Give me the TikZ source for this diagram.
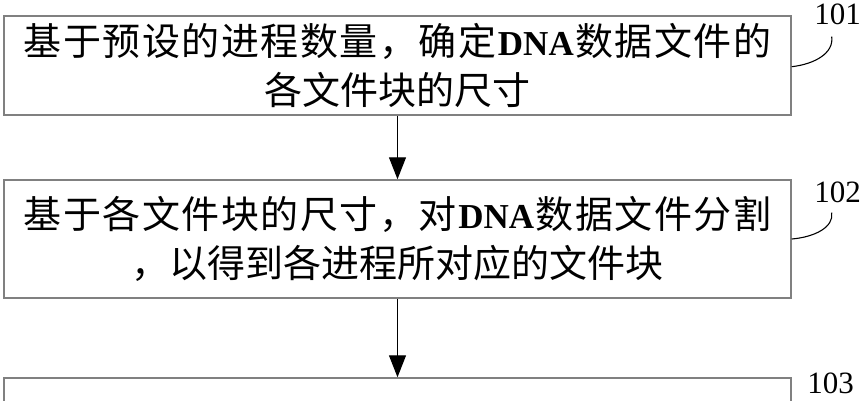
\documentclass[tikz,border=0pt]{standalone}
\usepackage{fontspec}
\usetikzlibrary{arrows.meta}
\newfontfamily\cjk{Noto Sans CJK SC}
\newfontfamily\tnr{Liberation Serif}
\newcommand\dna{{\tnr\bfseries\fontsize{35}{49}\selectfont DNA}}
\definecolor{boxgray}{HTML}{808080}
\tikzset{
  stepbox/.style={draw=boxgray, line width=1.5pt, rectangle, inner sep=0pt,
    minimum width=787pt, align=center, text=black,
    font=\cjk\fontsize{38}{49}\selectfont},
  flow/.style={draw=black, line width=1.2pt, -{Triangle[length=22pt,width=17pt]}},
  leader/.style={draw=black, line width=1.1pt},
  steplabel/.style={inner sep=0pt, font=\tnr\fontsize{31}{31}\selectfont}
}
\begin{document}
\begin{tikzpicture}[x=1pt,y=-1pt]
\useasboundingbox (0,0) rectangle (864,400);
\fill[white] (0,0) rectangle (864,400);

\node[stepbox, minimum height=99pt] (box1) at (397.5,65.5)
 {\makebox[748pt][s]{基\hfil 于\hfil 预\hfil 设\hfil 的\hfil 进\hfil 程\hfil 数\hfil 量\hfil ，\hfil 确\hfil 定\hfil\dna\hfil 数\hfil 据\hfil 文\hfil 件\hfil 的}\\
  各文件块的尺寸};

\node[stepbox, minimum height=118pt] (box2) at (397.5,239)
 {\makebox[748pt][s]{基\hfil 于\hfil 各\hfil 文\hfil 件\hfil 块\hfil 的\hfil 尺\hfil 寸\hfil ，\hfil 对\hfil\dna\hfil 数\hfil 据\hfil 文\hfil 件\hfil 分\hfil 割}\\
  ，以得到各进程所对应的文件块};

\node[stepbox, minimum height=100pt] (box3) at (397.5,428) {};

\draw[flow] (box1.south) -- (box2.north);
\draw[flow] (box2.south) -- (box3.north);

\node[steplabel] (l101) at (837.5,14.5) {101};
\node[steplabel] (l102) at (837.5,192.5) {102};
\node[steplabel] (l103) at (830.5,383.5) {103};

\coordinate (e101) at (831.7,36.7);
\coordinate (e102) at (831.7,212.7);
\draw[leader] ([yshift=-1.2pt]box1.east) .. controls (815,64) and (834,53) .. (e101);
\draw[leader] (box2.east) .. controls (815,237) and (834,227) .. (e102);
\end{tikzpicture}
\end{document}
